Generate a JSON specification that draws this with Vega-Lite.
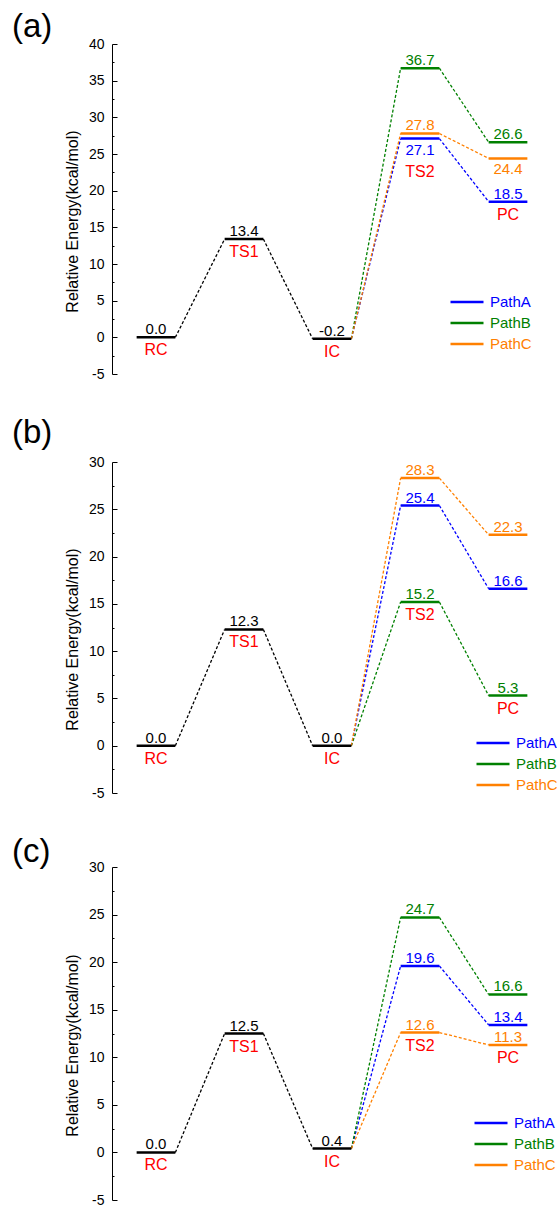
{
  "$schema": "https://vega.github.io/schema/vega-lite/v6.json",
  "background": "white",
  "padding": {"left": 12, "top": 11, "right": 0, "bottom": 0},
  "spacing": 36,
  "config": {
    "font": "Liberation Sans",
    "view": {"stroke": null},
    "locale": {"number": {"decimal": ".", "thousands": ",", "grouping": [3], "currency": ["$", ""], "minus": "-"}}
  },
  "resolve": {"scale": {"color": "independent", "y": "independent", "x": "independent"}, "legend": {"color": "independent"}},
  "datasets": {
    "levels": [
      {"panel": "a", "state": "RC", "path": "none", "E": 0.0, "side": "above"},
      {"panel": "a", "state": "TS1", "path": "none", "E": 13.4, "side": "above"},
      {"panel": "a", "state": "IC", "path": "none", "E": -0.2, "side": "above"},
      {"panel": "a", "state": "TS2", "path": "PathA", "E": 27.1, "side": "below"},
      {"panel": "a", "state": "TS2", "path": "PathB", "E": 36.7, "side": "above"},
      {"panel": "a", "state": "TS2", "path": "PathC", "E": 27.8, "side": "above"},
      {"panel": "a", "state": "PC", "path": "PathA", "E": 18.5, "side": "above"},
      {"panel": "a", "state": "PC", "path": "PathB", "E": 26.6, "side": "above"},
      {"panel": "a", "state": "PC", "path": "PathC", "E": 24.4, "side": "below"},
      {"panel": "b", "state": "RC", "path": "none", "E": 0.0, "side": "above"},
      {"panel": "b", "state": "TS1", "path": "none", "E": 12.3, "side": "above"},
      {"panel": "b", "state": "IC", "path": "none", "E": 0.0, "side": "above"},
      {"panel": "b", "state": "TS2", "path": "PathA", "E": 25.4, "side": "above"},
      {"panel": "b", "state": "TS2", "path": "PathB", "E": 15.2, "side": "above"},
      {"panel": "b", "state": "TS2", "path": "PathC", "E": 28.3, "side": "above"},
      {"panel": "b", "state": "PC", "path": "PathA", "E": 16.6, "side": "above"},
      {"panel": "b", "state": "PC", "path": "PathB", "E": 5.3, "side": "above"},
      {"panel": "b", "state": "PC", "path": "PathC", "E": 22.3, "side": "above"},
      {"panel": "c", "state": "RC", "path": "none", "E": 0.0, "side": "above"},
      {"panel": "c", "state": "TS1", "path": "none", "E": 12.5, "side": "above"},
      {"panel": "c", "state": "IC", "path": "none", "E": 0.4, "side": "above"},
      {"panel": "c", "state": "TS2", "path": "PathA", "E": 19.6, "side": "above"},
      {"panel": "c", "state": "TS2", "path": "PathB", "E": 24.7, "side": "above"},
      {"panel": "c", "state": "TS2", "path": "PathC", "E": 12.6, "side": "above"},
      {"panel": "c", "state": "PC", "path": "PathA", "E": 13.4, "side": "above"},
      {"panel": "c", "state": "PC", "path": "PathB", "E": 16.6, "side": "above"},
      {"panel": "c", "state": "PC", "path": "PathC", "E": 11.3, "side": "above"}
    ],
    "links": [
      {"panel": "a", "path": "none", "state": "RC", "state2": "TS1", "E": 0.0, "E2": 13.4},
      {"panel": "a", "path": "none", "state": "TS1", "state2": "IC", "E": 13.4, "E2": -0.2},
      {"panel": "a", "path": "PathA", "state": "IC", "state2": "TS2", "E": -0.2, "E2": 27.1},
      {"panel": "a", "path": "PathA", "state": "TS2", "state2": "PC", "E": 27.1, "E2": 18.5},
      {"panel": "a", "path": "PathB", "state": "IC", "state2": "TS2", "E": -0.2, "E2": 36.7},
      {"panel": "a", "path": "PathB", "state": "TS2", "state2": "PC", "E": 36.7, "E2": 26.6},
      {"panel": "a", "path": "PathC", "state": "IC", "state2": "TS2", "E": -0.2, "E2": 27.8},
      {"panel": "a", "path": "PathC", "state": "TS2", "state2": "PC", "E": 27.8, "E2": 24.4},
      {"panel": "b", "path": "none", "state": "RC", "state2": "TS1", "E": 0.0, "E2": 12.3},
      {"panel": "b", "path": "none", "state": "TS1", "state2": "IC", "E": 12.3, "E2": 0.0},
      {"panel": "b", "path": "PathA", "state": "IC", "state2": "TS2", "E": 0.0, "E2": 25.4},
      {"panel": "b", "path": "PathA", "state": "TS2", "state2": "PC", "E": 25.4, "E2": 16.6},
      {"panel": "b", "path": "PathB", "state": "IC", "state2": "TS2", "E": 0.0, "E2": 15.2},
      {"panel": "b", "path": "PathB", "state": "TS2", "state2": "PC", "E": 15.2, "E2": 5.3},
      {"panel": "b", "path": "PathC", "state": "IC", "state2": "TS2", "E": 0.0, "E2": 28.3},
      {"panel": "b", "path": "PathC", "state": "TS2", "state2": "PC", "E": 28.3, "E2": 22.3},
      {"panel": "c", "path": "none", "state": "RC", "state2": "TS1", "E": 0.0, "E2": 12.5},
      {"panel": "c", "path": "none", "state": "TS1", "state2": "IC", "E": 12.5, "E2": 0.4},
      {"panel": "c", "path": "PathA", "state": "IC", "state2": "TS2", "E": 0.4, "E2": 19.6},
      {"panel": "c", "path": "PathA", "state": "TS2", "state2": "PC", "E": 19.6, "E2": 13.4},
      {"panel": "c", "path": "PathB", "state": "IC", "state2": "TS2", "E": 0.4, "E2": 24.7},
      {"panel": "c", "path": "PathB", "state": "TS2", "state2": "PC", "E": 24.7, "E2": 16.6},
      {"panel": "c", "path": "PathC", "state": "IC", "state2": "TS2", "E": 0.4, "E2": 12.6},
      {"panel": "c", "path": "PathC", "state": "TS2", "state2": "PC", "E": 12.6, "E2": 11.3}
    ],
    "names": [
      {"panel": "a", "state": "RC", "E": 0.0, "row": 0},
      {"panel": "a", "state": "TS1", "E": 13.4, "row": 0},
      {"panel": "a", "state": "IC", "E": -0.2, "row": 0},
      {"panel": "a", "state": "TS2", "E": 27.1, "row": 1},
      {"panel": "a", "state": "PC", "E": 18.5, "row": 0},
      {"panel": "b", "state": "RC", "E": 0.0, "row": 0},
      {"panel": "b", "state": "TS1", "E": 12.3, "row": 0},
      {"panel": "b", "state": "IC", "E": 0.0, "row": 0},
      {"panel": "b", "state": "TS2", "E": 15.2, "row": 0},
      {"panel": "b", "state": "PC", "E": 5.3, "row": 0},
      {"panel": "c", "state": "RC", "E": 0.0, "row": 0},
      {"panel": "c", "state": "TS1", "E": 12.5, "row": 0},
      {"panel": "c", "state": "IC", "E": 0.4, "row": 0},
      {"panel": "c", "state": "TS2", "E": 12.6, "row": 0},
      {"panel": "c", "state": "PC", "E": 11.3, "row": 0}
    ]
  },
  "vconcat": [
    {
      "title": {"text": "(a)", "anchor": "start", "frame": "group", "dx": -100, "fontSize": 33, "fontWeight": "normal", "color": "black", "offset": -7},
      "width": 440, "height": 330,
      "resolve": {"axis": {"y": "independent"}},
      "layer": [
        {"data": {"name": "links"}, "transform": [{"filter": "datum.panel === 'a'"}],
         "mark": {"type": "rule", "strokeDash": [3, 2], "strokeWidth": 1.3},
         "encoding": {
           "x": {"field": "state", "type": "nominal", "bandPosition": 0.72, "scale": {"type": "band", "domain": ["RC", "TS1", "IC", "TS2", "PC"], "paddingInner": 0, "paddingOuter": 0}, "axis": null},
           "x2": {"field": "state2", "bandPosition": 0.28},
           "y": {"field": "E", "type": "quantitative", "scale": {"domain": [-5, 40], "nice": false, "zero": false},
                 "axis": {"orient": "left", "values": [-5, 0, 5, 10, 15, 20, 25, 30, 35, 40], "tickSize": -5, "labelPadding": 13, "grid": false,
                          "domainColor": "black", "tickColor": "black", "labelColor": "black", "labelFontSize": 14, "labelOverlap": false, "labelFlush": false,
                          "title": "Relative Energy(kcal/mol)", "titleFontSize": 16, "titleFontWeight": "normal", "titleColor": "black", "titlePadding": 8, "titleY": 177}},
           "y2": {"field": "E2"},
           "stroke": {"field": "path", "type": "nominal", "scale": {"domain": ["PathA", "PathB", "PathC", "none"], "range": ["#0000ff", "#008000", "#ff8000", "#000000"]}, "legend": null}
         }},
        {"data": {"name": "levels"}, "transform": [{"filter": "datum.panel === 'a'"}],
         "mark": {"type": "rule", "strokeWidth": 2.5},
         "encoding": {
           "x": {"field": "state", "type": "nominal", "bandPosition": 0.28, "axis": null},
           "x2": {"field": "state", "bandPosition": 0.72},
           "y": {"field": "E", "type": "quantitative",
                 "axis": {"orient": "left", "values": [-2.5, 2.5, 7.5, 12.5, 17.5, 22.5, 27.5, 32.5, 37.5], "labels": false, "domain": false, "title": null, "tickSize": -2, "grid": false, "tickColor": "black"}},
           "color": {"field": "path", "type": "nominal", "scale": {"domain": ["PathA", "PathB", "PathC", "none"], "range": ["#0000ff", "#008000", "#ff8000", "#000000"]},
                     "legend": {"values": ["PathA", "PathB", "PathC"], "title": null, "orient": "none", "legendX": 346, "legendY": 249, "symbolType": "M-2.2,0H2.2", "symbolSize": 225, "symbolStrokeWidth": 2.5, "labelFontSize": 15, "labelOffset": 14, "rowPadding": 4, "padding": 0,
                                "encode": {"labels": {"update": {"fill": {"signal": "datum.value === 'PathA' ? '#0000ff' : datum.value === 'PathB' ? '#008000' : '#ff8000'"}}}}}}
         }},
        {"data": {"name": "levels"}, "transform": [{"filter": "datum.panel === 'a' && datum.side === 'above'"}],
         "mark": {"type": "text", "fontSize": 15, "baseline": "alphabetic", "dy": -3},
         "encoding": {
           "x": {"field": "state", "type": "nominal", "bandPosition": 0.5, "axis": null},
           "y": {"field": "E", "type": "quantitative", "axis": null},
           "text": {"field": "E", "type": "quantitative", "format": ".1f"},
           "fill": {"field": "path", "type": "nominal", "scale": {"domain": ["PathA", "PathB", "PathC", "none"], "range": ["#0000ff", "#008000", "#ff8000", "#000000"]}, "legend": null}
         }},
        {"data": {"name": "levels"}, "transform": [{"filter": "datum.panel === 'a' && datum.side === 'below'"}],
         "mark": {"type": "text", "fontSize": 15, "baseline": "top", "dy": 4},
         "encoding": {
           "x": {"field": "state", "type": "nominal", "bandPosition": 0.5, "axis": null},
           "y": {"field": "E", "type": "quantitative", "axis": null},
           "text": {"field": "E", "type": "quantitative", "format": ".1f"},
           "fill": {"field": "path", "type": "nominal", "scale": {"domain": ["PathA", "PathB", "PathC", "none"], "range": ["#0000ff", "#008000", "#ff8000", "#000000"]}, "legend": null}
         }},
        {"data": {"name": "names"}, "transform": [{"filter": "datum.panel === 'a' && datum.row === 0"}],
         "mark": {"type": "text", "fontSize": 16, "baseline": "top", "dy": 5, "color": "#ff0000"},
         "encoding": {
           "x": {"field": "state", "type": "nominal", "bandPosition": 0.5, "axis": null},
           "y": {"field": "E", "type": "quantitative", "axis": null},
           "text": {"field": "state", "type": "nominal"}
         }},
        {"data": {"name": "names"}, "transform": [{"filter": "datum.panel === 'a' && datum.row === 1"}],
         "mark": {"type": "text", "fontSize": 16, "baseline": "top", "dy": 25, "color": "#ff0000"},
         "encoding": {
           "x": {"field": "state", "type": "nominal", "bandPosition": 0.5, "axis": null},
           "y": {"field": "E", "type": "quantitative", "axis": null},
           "text": {"field": "state", "type": "nominal"}
         }}
      ]
    },
    {
      "title": {"text": "(b)", "anchor": "start", "frame": "group", "dx": -100, "fontSize": 33, "fontWeight": "normal", "color": "black", "offset": 5},
      "width": 440, "height": 331,
      "resolve": {"axis": {"y": "independent"}},
      "layer": [
        {"data": {"name": "links"}, "transform": [{"filter": "datum.panel === 'b'"}],
         "mark": {"type": "rule", "strokeDash": [3, 2], "strokeWidth": 1.3},
         "encoding": {
           "x": {"field": "state", "type": "nominal", "bandPosition": 0.72, "scale": {"type": "band", "domain": ["RC", "TS1", "IC", "TS2", "PC"], "paddingInner": 0, "paddingOuter": 0}, "axis": null},
           "x2": {"field": "state2", "bandPosition": 0.28},
           "y": {"field": "E", "type": "quantitative", "scale": {"domain": [-5, 30], "nice": false, "zero": false},
                 "axis": {"orient": "left", "values": [-5, 0, 5, 10, 15, 20, 25, 30], "tickSize": -5, "labelPadding": 13, "grid": false,
                          "domainColor": "black", "tickColor": "black", "labelColor": "black", "labelFontSize": 14, "labelOverlap": false, "labelFlush": false,
                          "title": "Relative Energy(kcal/mol)", "titleFontSize": 16, "titleFontWeight": "normal", "titleColor": "black", "titlePadding": 8, "titleY": 177}},
           "y2": {"field": "E2"},
           "stroke": {"field": "path", "type": "nominal", "scale": {"domain": ["PathA", "PathB", "PathC", "none"], "range": ["#0000ff", "#008000", "#ff8000", "#000000"]}, "legend": null}
         }},
        {"data": {"name": "levels"}, "transform": [{"filter": "datum.panel === 'b'"}],
         "mark": {"type": "rule", "strokeWidth": 2.5},
         "encoding": {
           "x": {"field": "state", "type": "nominal", "bandPosition": 0.28, "axis": null},
           "x2": {"field": "state", "bandPosition": 0.72},
           "y": {"field": "E", "type": "quantitative",
                 "axis": {"orient": "left", "values": [-2.5, 2.5, 7.5, 12.5, 17.5, 22.5, 27.5], "labels": false, "domain": false, "title": null, "tickSize": -2, "grid": false, "tickColor": "black"}},
           "color": {"field": "path", "type": "nominal", "scale": {"domain": ["PathA", "PathB", "PathC", "none"], "range": ["#0000ff", "#008000", "#ff8000", "#000000"]},
                     "legend": {"values": ["PathA", "PathB", "PathC"], "title": null, "orient": "none", "legendX": 372, "legendY": 272, "symbolType": "M-2.2,0H2.2", "symbolSize": 225, "symbolStrokeWidth": 2.5, "labelFontSize": 15, "labelOffset": 14, "rowPadding": 4, "padding": 0,
                                "encode": {"labels": {"update": {"fill": {"signal": "datum.value === 'PathA' ? '#0000ff' : datum.value === 'PathB' ? '#008000' : '#ff8000'"}}}}}}
         }},
        {"data": {"name": "levels"}, "transform": [{"filter": "datum.panel === 'b' && datum.side === 'above'"}],
         "mark": {"type": "text", "fontSize": 15, "baseline": "alphabetic", "dy": -3},
         "encoding": {
           "x": {"field": "state", "type": "nominal", "bandPosition": 0.5, "axis": null},
           "y": {"field": "E", "type": "quantitative", "axis": null},
           "text": {"field": "E", "type": "quantitative", "format": ".1f"},
           "fill": {"field": "path", "type": "nominal", "scale": {"domain": ["PathA", "PathB", "PathC", "none"], "range": ["#0000ff", "#008000", "#ff8000", "#000000"]}, "legend": null}
         }},
        {"data": {"name": "names"}, "transform": [{"filter": "datum.panel === 'b' && datum.row === 0"}],
         "mark": {"type": "text", "fontSize": 16, "baseline": "top", "dy": 5, "color": "#ff0000"},
         "encoding": {
           "x": {"field": "state", "type": "nominal", "bandPosition": 0.5, "axis": null},
           "y": {"field": "E", "type": "quantitative", "axis": null},
           "text": {"field": "state", "type": "nominal"}
         }}
      ]
    },
    {
      "title": {"text": "(c)", "anchor": "start", "frame": "group", "dx": -100, "fontSize": 33, "fontWeight": "normal", "color": "black", "offset": -9},
      "width": 440, "height": 333,
      "resolve": {"axis": {"y": "independent"}},
      "layer": [
        {"data": {"name": "links"}, "transform": [{"filter": "datum.panel === 'c'"}],
         "mark": {"type": "rule", "strokeDash": [3, 2], "strokeWidth": 1.3},
         "encoding": {
           "x": {"field": "state", "type": "nominal", "bandPosition": 0.72, "scale": {"type": "band", "domain": ["RC", "TS1", "IC", "TS2", "PC"], "paddingInner": 0, "paddingOuter": 0}, "axis": null},
           "x2": {"field": "state2", "bandPosition": 0.28},
           "y": {"field": "E", "type": "quantitative", "scale": {"domain": [-5, 30], "nice": false, "zero": false},
                 "axis": {"orient": "left", "values": [-5, 0, 5, 10, 15, 20, 25, 30], "tickSize": -5, "labelPadding": 13, "grid": false,
                          "domainColor": "black", "tickColor": "black", "labelColor": "black", "labelFontSize": 14, "labelOverlap": false, "labelFlush": false,
                          "title": "Relative Energy(kcal/mol)", "titleFontSize": 16, "titleFontWeight": "normal", "titleColor": "black", "titlePadding": 8, "titleY": 178}},
           "y2": {"field": "E2"},
           "stroke": {"field": "path", "type": "nominal", "scale": {"domain": ["PathA", "PathB", "PathC", "none"], "range": ["#0000ff", "#008000", "#ff8000", "#000000"]}, "legend": null}
         }},
        {"data": {"name": "levels"}, "transform": [{"filter": "datum.panel === 'c'"}],
         "mark": {"type": "rule", "strokeWidth": 2.5},
         "encoding": {
           "x": {"field": "state", "type": "nominal", "bandPosition": 0.28, "axis": null},
           "x2": {"field": "state", "bandPosition": 0.72},
           "y": {"field": "E", "type": "quantitative",
                 "axis": {"orient": "left", "values": [-2.5, 2.5, 7.5, 12.5, 17.5, 22.5, 27.5], "labels": false, "domain": false, "title": null, "tickSize": -2, "grid": false, "tickColor": "black"}},
           "color": {"field": "path", "type": "nominal", "scale": {"domain": ["PathA", "PathB", "PathC", "none"], "range": ["#0000ff", "#008000", "#ff8000", "#000000"]},
                     "legend": {"values": ["PathA", "PathB", "PathC"], "title": null, "orient": "none", "legendX": 370, "legendY": 247, "symbolType": "M-2.2,0H2.2", "symbolSize": 225, "symbolStrokeWidth": 2.5, "labelFontSize": 15, "labelOffset": 14, "rowPadding": 4, "padding": 0,
                                "encode": {"labels": {"update": {"fill": {"signal": "datum.value === 'PathA' ? '#0000ff' : datum.value === 'PathB' ? '#008000' : '#ff8000'"}}}}}}
         }},
        {"data": {"name": "levels"}, "transform": [{"filter": "datum.panel === 'c' && datum.side === 'above'"}],
         "mark": {"type": "text", "fontSize": 15, "baseline": "alphabetic", "dy": -3},
         "encoding": {
           "x": {"field": "state", "type": "nominal", "bandPosition": 0.5, "axis": null},
           "y": {"field": "E", "type": "quantitative", "axis": null},
           "text": {"field": "E", "type": "quantitative", "format": ".1f"},
           "fill": {"field": "path", "type": "nominal", "scale": {"domain": ["PathA", "PathB", "PathC", "none"], "range": ["#0000ff", "#008000", "#ff8000", "#000000"]}, "legend": null}
         }},
        {"data": {"name": "names"}, "transform": [{"filter": "datum.panel === 'c' && datum.row === 0"}],
         "mark": {"type": "text", "fontSize": 16, "baseline": "top", "dy": 5, "color": "#ff0000"},
         "encoding": {
           "x": {"field": "state", "type": "nominal", "bandPosition": 0.5, "axis": null},
           "y": {"field": "E", "type": "quantitative", "axis": null},
           "text": {"field": "state", "type": "nominal"}
         }}
      ]
    }
  ]
}
